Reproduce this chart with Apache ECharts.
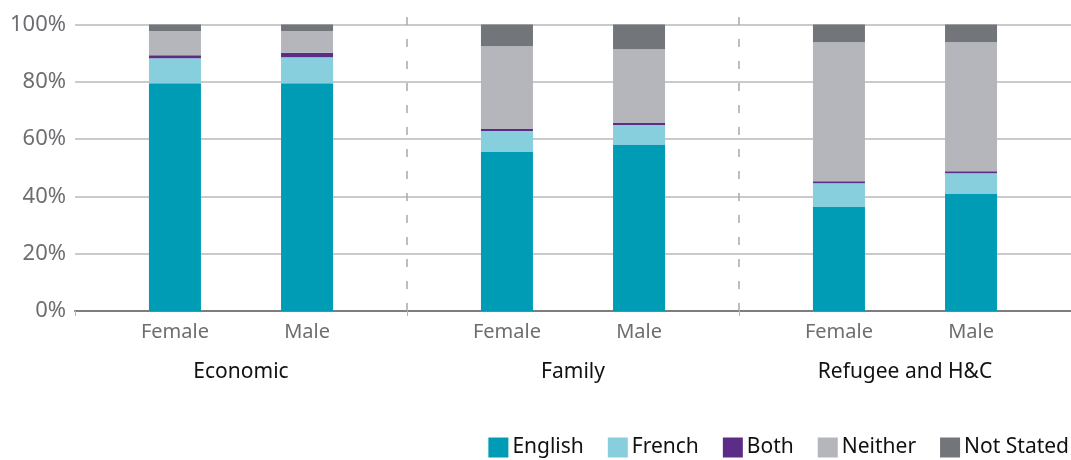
<!DOCTYPE html>
<html>
<head>
<meta charset="utf-8">
<script src="https://cdn.jsdelivr.net/npm/echarts@6/dist/echarts.min.js"></script>
<style>
    html, body { margin: 0; padding: 0; background: #ffffff; }
    #chart { width: 1071px; height: 460px; }
</style>
</head>
<body>
<div id="chart"></div>
<script>
const FONT = "'Noto Sans', 'Open Sans', sans-serif";

const categories = ["Economic", "Family", "Refugee and H&C"];
const stacks = ["Female", "Male"];
const languages = ["English", "French", "Both", "Neither", "Not Stated"];
const yTicks = [0, 20, 40, 60, 80, 100];

// percent of each group
const femaleEnglish = [79.5, 55.5, 36.3];
const femaleFrench = [8.7, 7.3, 8.3];
const femaleBoth = [1.1, 0.7, 0.7];
const femaleNeither = [8.4, 28.9, 48.5];
const femaleNotStated = [2.3, 7.6, 6.2];

const maleEnglish = [79.5, 57.9, 40.8];
const maleFrench = [9.1, 7.0, 7.3];
const maleBoth = [1.5, 0.7, 0.7];
const maleNeither = [7.6, 25.8, 45.0];
const maleNotStated = [2.3, 8.6, 6.2];

const colors = {
    "English": "#009cb6",
    "French": "#88cfdd",
    "Both": "#5c2d87",
    "Neither": "#b5b6bb",
    "Not Stated": "#727579",
};

const valuesByStack = {
    Female: [femaleEnglish, femaleFrench, femaleBoth, femaleNeither, femaleNotStated],
    Male: [maleEnglish, maleFrench, maleBoth, maleNeither, maleNotStated],
};

function buildBarSeries() {
    const series = [];
    stacks.forEach((stack) => {
        languages.forEach((lang, i) => {
            series.push({
                name: lang,
                type: "bar",
                stack: stack,
                barWidth: 52,
                barGap: "154%",
                data: valuesByStack[stack][i],
                itemStyle: { color: colors[lang] },
                label: i === 0 ? {
                    show: true,
                    position: "bottom",
                    distance: 11,
                    formatter: () => stack,
                    color: "#6d6e71",
                    fontFamily: FONT,
                    fontSize: 20,
                } : { show: false },
                emphasis: { disabled: true },
            });
        });
    });
    return series;
}

const chart = echarts.init(document.getElementById("chart"));

chart.setOption({
    animation: false,
    backgroundColor: "#ffffff",
    textStyle: { fontFamily: FONT },
    grid: [
        { left: 75, right: -2, top: 24.5, bottom: 149 },
        { left: 75, right: -2, top: 7, bottom: 149 },
    ],
    legend: {
        data: languages,
        right: 2,
        bottom: 2,
        padding: 0,
        itemWidth: 20,
        itemHeight: 20,
        itemGap: 24,
        icon: "rect",
        textStyle: { color: "#111111", fontSize: 21, fontFamily: FONT, padding: [0, 0, 0, -1] },
    },
    xAxis: [
        {
            type: "category",
            gridIndex: 0,
            data: categories,
            axisLine: { lineStyle: { color: "#7d7e82", width: 2 } },
            axisTick: { show: true, length: 5, lineStyle: { color: "#b5b6bb" } },
            axisLabel: { color: "#111111", fontSize: 21, fontFamily: FONT, margin: 51 },
            splitLine: { show: false },
        },
        {
            type: "value",
            gridIndex: 1,
            min: 0,
            max: categories.length,
            show: false,
        },
    ],
    yAxis: [
        {
            type: "value",
            gridIndex: 0,
            min: yTicks[0],
            max: yTicks[yTicks.length - 1],
            interval: 20,
            axisLine: { show: false },
            axisTick: { show: false },
            axisLabel: {
                formatter: "{value}%",
                color: "#6d6e71",
                fontSize: 22,
                fontFamily: FONT,
                margin: 9,
            },
            splitLine: { lineStyle: { color: "#b8b9bd", width: 1.5 } },
        },
        {
            type: "value",
            gridIndex: 1,
            min: 0,
            max: 1,
            show: false,
        },
    ],
    series: [
        ...buildBarSeries(),
        {
            name: "separators",
            type: "line",
            xAxisIndex: 1,
            yAxisIndex: 1,
            data: [],
            silent: true,
            markLine: {
                silent: true,
                symbol: "none",
                label: { show: false },
                lineStyle: { color: "#a8a9ad", width: 1.5, type: [8, 14] },
                data: categories.slice(1).map((_, i) => ({ xAxis: i + 1 })),
            },
        },
    ],
});
</script>
</body>
</html>
